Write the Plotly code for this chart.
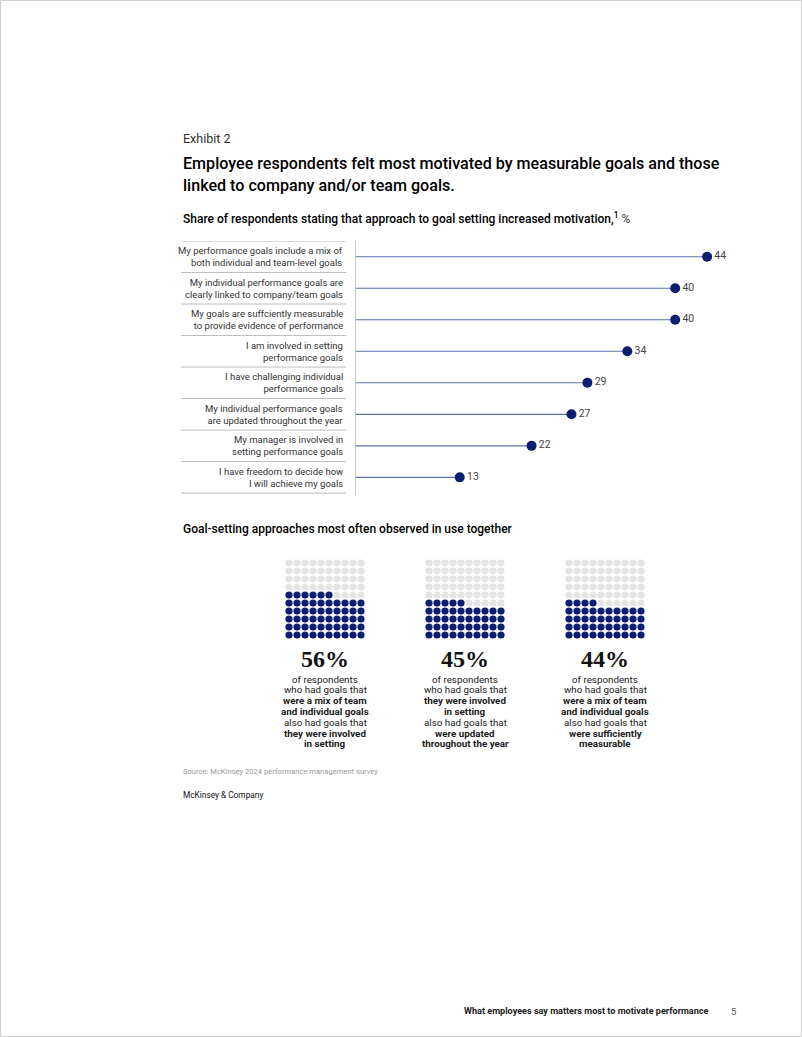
import plotly.graph_objects as go

W, H = 802, 1037

categories = [
    "My performance goals include a mix of<br>both individual and team-level goals",
    "My individual performance goals are<br>clearly linked to company/team goals",
    "My goals are suffciently measurable<br>to provide evidence of performance",
    "I am involved in setting<br>performance goals",
    "I have challenging individual<br>performance goals",
    "My individual performance goals<br>are updated throughout the year",
    "My manager is involved in<br>setting performance goals",
    "I have freedom to decide how<br>I will achieve my goals",
]
values = [44, 40, 40, 34, 29, 27, 22, 13]

waffle_values = [56, 45, 44]
waffle_texts = [
    ["of respondents", "who had goals that", "<b>were a mix of team</b>", "<b>and individual goals</b>",
     "also had goals that", "<b>they were involved</b>", "<b>in setting</b>"],
    ["of respondents", "who had goals that", "<b>they were involved</b>", "<b>in setting</b>",
     "also had goals that", "<b>were updated</b>", "<b>throughout the year</b>"],
    ["of respondents", "who had goals that", "<b>were a mix of team</b>", "<b>and individual goals</b>",
     "also had goals that", "<b>were sufficiently</b>", "<b>measurable</b>"],
]

NAVY = "#0b1f6e"
STEM = "#5c6fa6"
FONT = "Roboto, Liberation Sans, Arial, sans-serif"

def px_x(x):
    return x / W

def px_y(y):
    return 1 - y / H

fig = go.Figure()

n = len(values)
xs, ys = [], []
for i, v in enumerate(values):
    xs += [0, v, None]
    ys += [i, i, None]
fig.add_trace(go.Scatter(x=xs, y=ys, mode="lines", line=dict(color=STEM, width=1.1),
                         hoverinfo="skip", showlegend=False))
fig.add_trace(go.Scatter(x=values, y=list(range(n)), mode="markers+text",
                         marker=dict(color=NAVY, size=10),
                         text=[str(v) for v in values], textposition="middle right",
                         textfont=dict(family=FONT, size=10.5, color="#444"),
                         showlegend=False))

x0 = 356
scale = 7.98
xmax = 50
fig.update_layout(
    xaxis=dict(domain=[px_x(x0), px_x(x0 + xmax * scale)], range=[0, xmax],
               visible=False, fixedrange=True),
    yaxis=dict(domain=[px_y(495), px_y(241)], range=[7.56, -0.5],
               showline=True, linecolor="#c8c8c8", linewidth=1, showticklabels=False,
               showgrid=False, zeroline=False, ticks=""),
)

annotations = []
shapes = []
for i, c in enumerate(categories):
    annotations.append(dict(text=c, xref="paper", yref="y", x=px_x(345), y=i,
                            xanchor="right", yanchor="middle", align="right",
                            showarrow=False,
                            font=dict(family=FONT, size=9.5, color="#333")))
for k in range(n + 1):
    shapes.append(dict(type="line", xref="paper", yref="y", x0=px_x(181), x1=px_x(346),
                       y0=k - 0.5, y1=k - 0.5, line=dict(color="#bdbdbd", width=1)))

centers = [325, 465, 605]
for j, (val, cx) in enumerate(zip(waffle_values, centers)):
    ax = j + 2
    xs_f, ys_f, xs_e, ys_e = [], [], [], []
    for row in range(10):
        for col in range(10):
            idx = row * 10 + col
            if idx < val:
                xs_f.append(col); ys_f.append(row)
            else:
                xs_e.append(col); ys_e.append(row)
    fig.add_trace(go.Scatter(x=xs_e, y=ys_e, mode="markers",
                             marker=dict(color="#e4e4e4", size=7.2),
                             xaxis=f"x{ax}", yaxis=f"y{ax}", showlegend=False, hoverinfo="skip"))
    fig.add_trace(go.Scatter(x=xs_f, y=ys_f, mode="markers",
                             marker=dict(color=NAVY, size=7.2),
                             xaxis=f"x{ax}", yaxis=f"y{ax}", showlegend=False, hoverinfo="skip"))
    fig.update_layout(**{
        f"xaxis{ax}": dict(domain=[px_x(cx - 40), px_x(cx + 40)], range=[-0.5, 9.5],
                           visible=False, fixedrange=True, anchor=f"y{ax}"),
        f"yaxis{ax}": dict(domain=[px_y(639), px_y(559)], range=[-0.5, 9.5],
                           visible=False, fixedrange=True, anchor=f"x{ax}"),
    })
    annotations.append(dict(text=f"{val}%", xref="paper", yref="paper",
                            x=px_x(cx), y=px_y(659), xanchor="center", yanchor="middle",
                            showarrow=False,
                            font=dict(family="Liberation Serif, Times New Roman, serif", size=24,
                                      color="#111", weight=600)))
    for li, line in enumerate(waffle_texts[j]):
        annotations.append(dict(text=line, xref="paper", yref="paper",
                                x=px_x(cx), y=px_y(679 + li * 10.8), xanchor="center", yanchor="middle",
                                showarrow=False,
                                font=dict(family=FONT, size=9.8, color="#222")))

annotations += [
    dict(text="Exhibit 2", x=px_x(181), y=px_y(138), font=dict(family=FONT, size=12.5, color="#333")),
    dict(text="Employee respondents felt most motivated by measurable goals and those",
         x=px_x(181), y=px_y(164), font=dict(family=FONT, size=16.1, color="#000", weight=500)),
    dict(text="linked to company and/or team goals.",
         x=px_x(181), y=px_y(185), font=dict(family=FONT, size=16.1, color="#000", weight=500)),
    dict(text="Share of respondents stating that approach to goal setting increased motivation,<sup>1</sup> <span style='color:#555'>%</span>",
         x=px_x(181), y=px_y(218), font=dict(family=FONT, size=12, color="#000", weight=500)),
    dict(text="Goal-setting approaches most often observed in use together",
         x=px_x(181), y=px_y(529), font=dict(family=FONT, size=12, color="#000", weight=500)),
    dict(text="Source: McKinsey 2024 performance management survey",
         x=px_x(181), y=px_y(771), font=dict(family=FONT, size=7.6, color="#999")),
    dict(text="McKinsey & Company",
         x=px_x(181), y=px_y(795), font=dict(family=FONT, size=8.3, color="#111")),
    dict(text="<b>What employees say matters most to motivate performance</b>",
         x=px_x(462), y=px_y(1011), font=dict(family=FONT, size=9.1, color="#222")),
    dict(text="5", x=px_x(729), y=px_y(1011), font=dict(family=FONT, size=9.5, color="#555")),
]
for a in annotations[-9:]:
    a.update(xref="paper", yref="paper", xanchor="left", yanchor="middle", showarrow=False)

shapes.append(dict(type="rect", xref="paper", yref="paper", x0=0.0006, x1=0.9994, y0=0.0005, y1=0.9995,
                   line=dict(color="#cfcfcf", width=1)))

fig.update_layout(
    width=W, height=H, margin=dict(l=0, r=0, t=0, b=0),
    paper_bgcolor="white", plot_bgcolor="rgba(0,0,0,0)",
    annotations=annotations, shapes=shapes, showlegend=False,
)

fig.write_html("out.html", config={"displayModeBar": False},
               post_script="document.body.style.margin='0';document.body.style.overflow='hidden';")
